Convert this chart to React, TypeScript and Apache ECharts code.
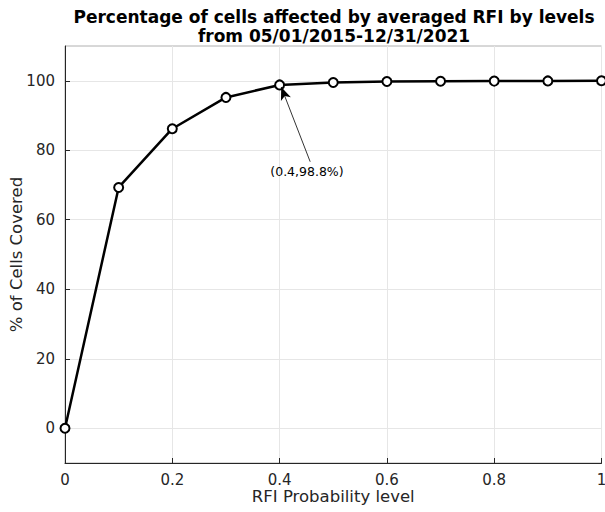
import React, { useEffect, useRef } from "react";
import * as echarts from "echarts";

const levels = [0, 0.1, 0.2, 0.3, 0.4, 0.5, 0.6, 0.7, 0.8, 0.9, 1.0];
const covered = [0, 69.3, 86.2, 95.2, 98.8, 99.5, 99.8, 99.85, 99.9, 99.95, 100];
const yTicks = [0, 20, 40, 60, 80, 100];
const annotationText = "(0.4,98.8%)";
const arrowFrom = [0.457, 76.7];
const arrowTo = [0.403, 98.2];
const labelAt = [0.451, 74.0];

export default function App() {
  const ref = useRef<HTMLDivElement>(null);
  useEffect(() => {
    if (!ref.current) return;
    const chart = echarts.init(ref.current, null, { renderer: "svg" });
    const font = "DejaVu Sans";
    chart.setOption({
      animation: false,
      backgroundColor: "#ffffff",
      title: {
        text: "Percentage of cells affected by averaged RFI by levels\nfrom 05/01/2015-12/31/2021",
        left: 329,
        textAlign: "center",
        top: 2,
        textStyle: { fontFamily: font, fontSize: 17, fontWeight: "bold", color: "#000", lineHeight: 19 },
      },
      grid: {
        left: 65, right: 3.5, top: 46, bottom: 49,
        containLabel: false, outerBoundsMode: "none",
        show: true, borderColor: "#b0b0b0", borderWidth: 1,
      },
      xAxis: {
        type: "value",
        min: 0,
        max: 1,
        interval: 0.2,
        name: "RFI Probability level",
        nameLocation: "middle",
        nameGap: 25,
        nameMoveOverlap: false,
        nameTextStyle: { fontFamily: font, fontSize: 16.5, color: "#262626" },
        axisLine: { show: true, onZero: false, lineStyle: { color: "#262626", width: 1 } },
        axisTick: { show: true, inside: true, length: 5, lineStyle: { color: "#262626" } },
        axisLabel: {
          fontFamily: font, fontSize: 15, color: "#262626", margin: 9,
          formatter: (v: number) => String(Math.round(v * 10) / 10),
        },
        splitLine: { show: true, lineStyle: { color: "#e6e6e6", width: 1 } },
      },
      yAxis: {
        type: "value",
        min: -10,
        max: 110,
        name: "% of Cells Covered",
        nameLocation: "middle",
        nameGap: 40,
        nameMoveOverlap: false,
        nameTextStyle: { fontFamily: font, fontSize: 16.5, color: "#262626" },
        axisLine: { show: true, onZero: false, lineStyle: { color: "#262626", width: 1 } },
        axisTick: { show: true, inside: true, length: 5, customValues: yTicks, lineStyle: { color: "#262626" } },
        axisLabel: { fontFamily: font, fontSize: 15, color: "#262626", margin: 10, customValues: yTicks },
        splitLine: { show: true, lineStyle: { color: "#e6e6e6", width: 1 } },
      },
      series: [
        {
          type: "line",
          data: levels.map((x, i) => [x, covered[i]]),
          symbol: "circle",
          symbolSize: 9,
          showAllSymbol: true,
          clip: false,
          lineStyle: { color: "#000", width: 2.5 },
          itemStyle: { color: "#fff", borderColor: "#000", borderWidth: 2 },
          z: 3,
          markLine: {
            silent: true,
            symbol: ["none", "arrow"],
            symbolSize: [8, 13],
            label: { show: false },
            lineStyle: { color: "#000", width: 0.8, type: "solid" },
            data: [[{ coord: arrowFrom }, { coord: arrowTo }]],
          },
          markPoint: {
            silent: true,
            symbol: "circle",
            symbolSize: 0,
            label: {
              show: true,
              position: "inside",
              formatter: annotationText,
              fontFamily: font,
              fontSize: 12.5,
              color: "#000",
            },
            data: [{ coord: labelAt }],
          },
        },
      ],
    });
    return () => chart.dispose();
  }, []);
  return <div ref={ref} style={{ width: 605, height: 512, position: "absolute", left: 0, top: 0 }} />;
}
